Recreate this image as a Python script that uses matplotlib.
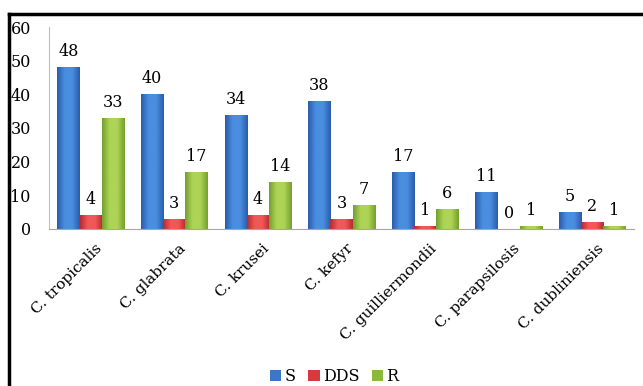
import numpy as np
import matplotlib.pyplot as plt
from matplotlib.lines import Line2D
from matplotlib.patches import Patch
from matplotlib.colors import LinearSegmentedColormap

species = ["C. tropicalis", "C. glabrata", "C. krusei", "C. kefyr",
           "C. guilliermondii", "C. parapsilosis", "C. dubliniensis"]
s_vals = [48, 40, 34, 38, 17, 11, 5]
dds_vals = [4, 3, 4, 3, 1, 0, 2]
r_vals = [33, 17, 14, 7, 6, 1, 1]
series_names = ["S", "DDS", "R"]

# edge / middle / flat colours for the shaded bars
shades = {
    "S": ("#2a5cac", "#4a8ee0", "#3b76c8"),
    "DDS": ("#b8292d", "#f0585a", "#d63a3d"),
    "R": ("#739f2e", "#aed456", "#8cb83e"),
}

plt.rcParams["font.family"] = ["DejaVu Serif"]

fig = plt.figure(figsize=(6.43, 3.86), dpi=100)
ax = fig.add_axes([0.076, 0.407, 0.910, 0.523])

x = np.arange(len(species))
width = 0.265
offsets = [-width, 0, width]


def shade_bar(ax, patch, edge, mid):
    # horizontal gradient: dark edges, light centre, clipped to the bar
    cmap = LinearSegmentedColormap.from_list("b", [edge, mid, mid, edge])
    grad = np.linspace(0, 1, 64).reshape(1, -1)
    bx, by = patch.get_x(), patch.get_y()
    bw, bh = patch.get_width(), patch.get_height()
    if bh <= 0:
        return
    im = ax.imshow(grad, cmap=cmap, aspect="auto", extent=[bx, bx + bw, by, by + bh],
                   zorder=2, interpolation="bicubic")
    im.set_clip_path(patch)


for name, vals, off in zip(series_names, [s_vals, dds_vals, r_vals], offsets):
    edge, mid, flat = shades[name]
    bars = ax.bar(x + off, vals, width, color=flat, edgecolor="none", zorder=1)
    for b, v in zip(bars, vals):
        shade_bar(ax, b, edge, mid)
        ax.annotate(str(v), (b.get_x() + b.get_width() / 2, v),
                    xytext=(0, 5), textcoords="offset points",
                    ha="center", va="bottom", fontsize=11.5)

ax.set_xlim(-0.5, len(species) - 0.5)
ax.set_ylim(0, 60)
ax.set_yticks(range(0, 61, 10))
ax.tick_params(axis="y", length=0, pad=13, labelsize=11.5)
ax.tick_params(axis="x", length=0, pad=9)
ax.set_xticks(x + 0.05)
ax.set_xticklabels(species, rotation=45, ha="right", rotation_mode="anchor",
                   fontsize=11)
for lbl in ax.get_xticklabels():
    lbl.set_va("top")

for side in ["top", "right"]:
    ax.spines[side].set_visible(False)
ax.spines["left"].set_color("#bfbfbf")
ax.spines["bottom"].set_color("#a6a6a6")

handles = [Patch(facecolor=shades[n][2], edgecolor="none") for n in series_names]
fig.legend(handles, series_names, loc="lower center", bbox_to_anchor=(0.52, -0.035),
           ncol=3, frameon=False, fontsize=11.5, handlelength=0.7, handleheight=0.7,
           handletextpad=0.2, columnspacing=0.8)

# outer frame (top and left edges)
fig.add_artist(Line2D([0.014, 1.0], [0.965, 0.965], color="black", lw=2.5,
                      transform=fig.transFigure))
fig.add_artist(Line2D([0.014, 0.014], [0.0, 0.965], color="black", lw=2.5,
                      transform=fig.transFigure))

fig.savefig("out.png", dpi=100)
